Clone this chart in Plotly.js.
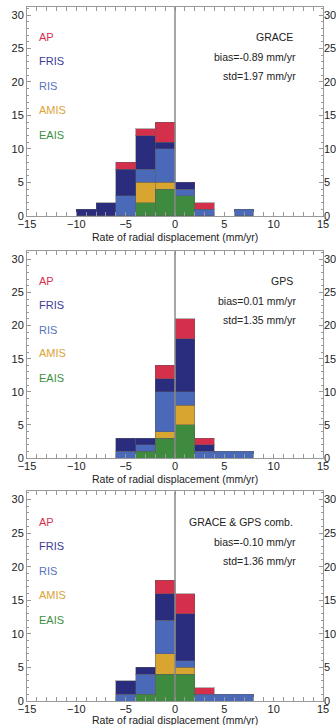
<!DOCTYPE html>
<html>
<head>
<meta charset="utf-8">
<script src="https://cdn.plot.ly/plotly-3.0.1.min.js"></script>
<style>html,body{margin:0;padding:0;background:#fff}#chart{width:336px;height:725px}</style>
</head>
<body>
<div id="chart"></div>
<script>
// Bin centres (bin width 2 mm/yr)
const bins = [-9, -7, -5, -3, -1, 1, 3, 5, 7];
const regions = ["EAIS", "AMIS", "RIS", "FRIS", "AP"];
const legendOrder = ["AP", "FRIS", "RIS", "AMIS", "EAIS"];

// GRACE
const grace_EAIS = [0, 0, 0, 2, 4, 3, 0, 0, 0];
const grace_AMIS = [0, 0, 0, 3, 1, 0, 0, 0, 0];
const grace_RIS  = [0, 0, 3, 2, 5, 1, 1, 0, 1];
const grace_FRIS = [1, 2, 4, 5, 1, 1, 0, 0, 0];
const grace_AP   = [0, 0, 1, 1, 3, 0, 1, 0, 0];
// GPS
const gps_EAIS = [0, 0, 0, 1, 3, 5, 0, 0, 0];
const gps_AMIS = [0, 0, 0, 0, 1, 3, 0, 0, 0];
const gps_RIS  = [0, 0, 1, 1, 6, 2, 1, 1, 1];
const gps_FRIS = [0, 0, 2, 1, 2, 8, 1, 0, 0];
const gps_AP   = [0, 0, 0, 0, 2, 3, 1, 0, 0];
// GRACE & GPS combined
const comb_EAIS = [0, 0, 0, 1, 4, 4, 0, 0, 0];
const comb_AMIS = [0, 0, 0, 0, 3, 1, 0, 0, 0];
const comb_RIS  = [0, 0, 1, 3, 5, 1, 1, 1, 1];
const comb_FRIS = [0, 0, 2, 1, 4, 7, 0, 0, 0];
const comb_AP   = [0, 0, 0, 0, 2, 3, 1, 0, 0];

const panelTitles = ["GRACE", "GPS", "GRACE & GPS comb."];
const biasLabels = ["bias=-0.89 mm/yr", "bias=0.01 mm/yr", "bias=-0.10 mm/yr"];
const stdLabels = ["std=1.97 mm/yr", "std=1.35 mm/yr", "std=1.36 mm/yr"];
const xTitle = "Rate of radial displacement (mm/yr)";

const colors = {AP: "#d42f4b", FRIS: "#2a2c7e", RIS: "#4b69b9", AMIS: "#d7a530", EAIS: "#3e8a3e"};
const textColors = {AP: "#d8304c", FRIS: "#3a3c98", RIS: "#5573c0", AMIS: "#dca335", EAIS: "#3e8f3e"};

const panels = [
  {EAIS: grace_EAIS, AMIS: grace_AMIS, RIS: grace_RIS, FRIS: grace_FRIS, AP: grace_AP},
  {EAIS: gps_EAIS, AMIS: gps_AMIS, RIS: gps_RIS, FRIS: gps_FRIS, AP: gps_AP},
  {EAIS: comb_EAIS, AMIS: comb_AMIS, RIS: comb_RIS, FRIS: comb_FRIS, AP: comb_AP}
];

const domains = [[0.699, 1.0], [0.350, 0.648], [0.0, 0.302]];
const titleShift = [-13, -13, -11];
const YMAX = 31.2;
const font = {family: "Liberation Sans, Arial, sans-serif", size: 11, color: "#222"};

const traces = [];
const layout = {
  width: 336, height: 725,
  margin: {l: 27, r: 13, t: 7, b: 24},
  paper_bgcolor: "#fff", plot_bgcolor: "#fff",
  barmode: "stack", bargap: 0,
  showlegend: false,
  font: font,
  annotations: [], shapes: []
};

panels.forEach((p, i) => {
  const n = i + 1;
  const xa = n === 1 ? "x" : "x" + n;
  const ya = n === 1 ? "y" : "y" + n;
  const yr = "y" + (n + 3);
  regions.forEach(r => {
    traces.push({
      type: "bar", x: bins, y: p[r].map(v => v === 0 ? null : v),
      width: 2, xaxis: xa, yaxis: ya, name: r,
      marker: {color: colors[r], line: {color: "rgba(90,90,90,0.45)", width: 1}},
      hoverinfo: "x+y+name"
    });
  });
  // invisible trace for right-hand label axis
  traces.push({type: "scatter", x: [0], y: [0], xaxis: xa, yaxis: yr, mode: "markers",
               marker: {opacity: 0}, hoverinfo: "skip"});

  const axKey = n === 1 ? "xaxis" : "xaxis" + n;
  const yKey = n === 1 ? "yaxis" : "yaxis" + n;
  layout[axKey] = {
    anchor: ya, range: [-15, 15], tickmode: "linear", tick0: -15, dtick: 5,
    ticks: "inside", ticklen: 4, tickcolor: "#999", tickwidth: 1,
    minor: {ticks: "inside", ticklen: 2, dtick: 1, tickcolor: "#999"},
    showline: true, linecolor: "#999", linewidth: 1, mirror: "allticks",
    showgrid: false, zeroline: false, tickfont: {size: 11, color: "#222"},
    ticklabelstandoff: -2
  };
  layout[yKey] = {
    anchor: xa, domain: domains[i], range: [0, YMAX], tickmode: "linear", tick0: 0, dtick: 5,
    ticks: "inside", ticklen: 4, tickcolor: "#999",
    minor: {ticks: "inside", ticklen: 2, dtick: 1, tickcolor: "#999"},
    showline: true, linecolor: "#999", linewidth: 1, mirror: "allticks",
    showgrid: false, zeroline: false, tickfont: {size: 11, color: "#222"}, ticklabelstandoff: 0
  };
  layout["yaxis" + (n + 3)] = {
    overlaying: ya, side: "right", anchor: xa, range: [0, YMAX], tickmode: "linear", tick0: 0, dtick: 5,
    ticks: "", showline: false, showgrid: false, zeroline: false,
    tickfont: {size: 11, color: "#222"}, ticklabelstandoff: 0
  };

  // vertical line at zero
  layout.shapes.push({type: "line", xref: xa, yref: ya + " domain", x0: 0, x1: 0, y0: 0, y1: 1,
                      line: {color: "#8a8a8a", width: 1.5}, layer: "above"});

  // x-axis title
  layout.annotations.push({xref: xa + " domain", yref: ya + " domain", x: 0.5, y: 0,
    xanchor: "center", yanchor: "top", yshift: titleShift[i], text: xTitle, showarrow: false,
    font: {size: 10.5, color: "#222"}});

  // region labels
  const ly = [26.7, 23.1, 19.4, 15.8, 12.1];
  legendOrder.forEach((r, k) => {
    layout.annotations.push({xref: xa, yref: ya, x: -14, y: ly[k], xanchor: "left", yanchor: "middle",
      text: r, showarrow: false, font: {size: 11, color: textColors[r]}});
  });
  // panel info text
  const ty = [26.7, 23.7, 20.9];
  [panelTitles[i], biasLabels[i], stdLabels[i]].forEach((t, k) => {
    layout.annotations.push({xref: xa, yref: ya, x: k === 0 ? 12.2 : 12.5, y: ty[k], xanchor: "right", yanchor: "middle",
      text: t, showarrow: false, font: {size: 10.5, color: "#222"}});
  });
});

Plotly.newPlot("chart", traces, layout, {displayModeBar: false, staticPlot: true});
</script>
</body>
</html>
